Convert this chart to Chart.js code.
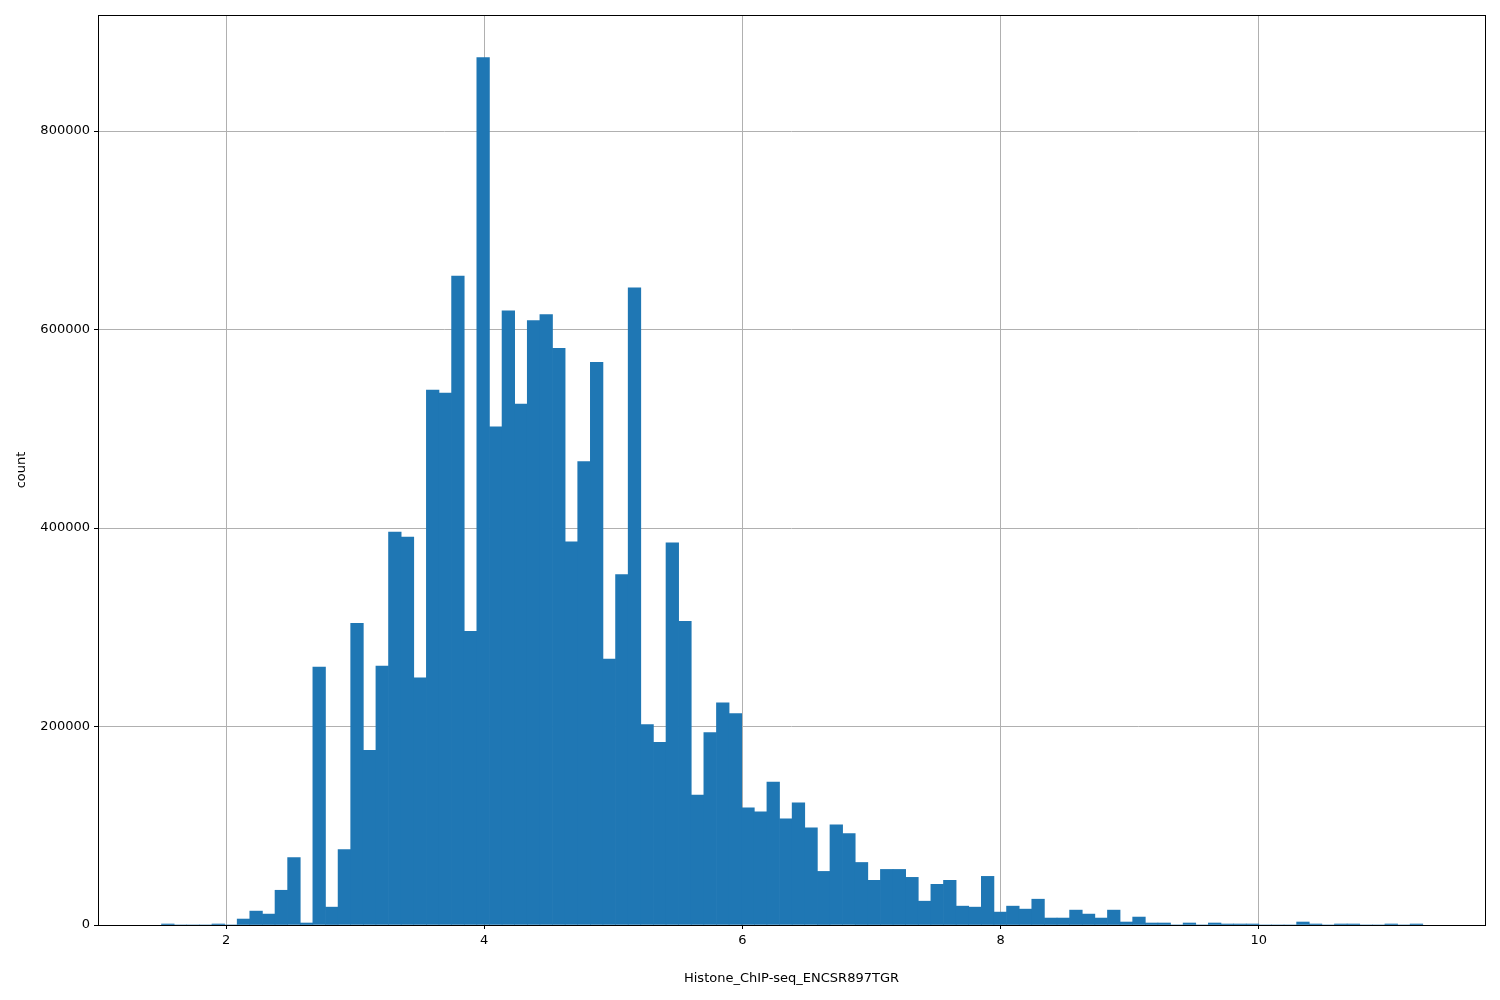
<!DOCTYPE html>
<html><head><meta charset="utf-8">
<script src="https://cdn.jsdelivr.net/npm/chart.js@4/dist/chart.umd.min.js"></script>
<style>html,body{margin:0;padding:0;background:#fff}#w{width:1500px;height:1000px}</style>
</head><body><div id="w"><canvas id="c"></canvas></div>
<script>
const binStart = 1.5;
const binWidth = 0.0977;
const counts = [1000,0,0,0,1000,0,6000,14000,11000,35000,
68000,2000,260000,18000,76000,304000,176000,261000,396000,391000,
249000,539000,536000,654000,296000,874000,502000,619000,525000,609000,
615000,581000,386000,467000,567000,268000,353000,642000,202000,184000,
385000,306000,131000,194000,224000,213000,118000,114000,144000,107000,
123000,98000,54000,101000,92000,63000,45000,56000,56000,48000,
24000,41000,45000,19000,18000,49000,13000,19000,16000,26000,
7000,7000,15000,11000,7000,15000,3000,8000,2000,2000,
0,2000,0,2000,1000,1000,1000,0,0,0,
3000,1000,0,1000,1000,0,0,1000,0,1000];
const xTicks = [2,4,6,8,10];
const yTicks = [0,200000,400000,600000,800000];
const data = counts.map((v,i)=>({x: binStart + binWidth*(i+0.5), y: v}));
Chart.defaults.font.family = 'DejaVu Sans';
Chart.defaults.font.size = 13;
Chart.defaults.color = '#000';
const border = {id:'border', afterDraw(ch){const a=ch.chartArea,c=ch.ctx;c.save();c.strokeStyle='#000';c.lineWidth=1;c.strokeRect(a.left+0.5,a.top+0.5,a.right-a.left,a.bottom-a.top);c.restore();}};
new Chart(document.getElementById('c'),{
type:'bar',
data:{datasets:[{data, backgroundColor:'#1f77b4', barPercentage:1, categoryPercentage:1, borderWidth:0}]},
options:{responsive:true, maintainAspectRatio:false, animation:false,
layout:{padding:{left:10,right:15,top:15,bottom:10}},
plugins:{legend:{display:false},tooltip:{enabled:false}},
scales:{
x:{type:'linear', offset:false, min:1.008, max:11.752, afterBuildTicks(s){s.ticks=xTicks.map(v=>({value:v}));}, afterFit(s){s.height=65;},
 grid:{offset:false, color:'#b0b0b0', tickLength:4, tickColor:'#000'}, border:{display:false},
 ticks:{padding:4}, title:{display:true,text:'Histone_ChIP-seq_ENCSR897TGR',padding:{top:4}}},
y:{min:0, max:917000, afterBuildTicks(s){s.ticks=yTicks.map(v=>({value:v}));}, afterFit(s){s.width=88;},
 grid:{color:'#b0b0b0', tickLength:4, tickColor:'#000'}, border:{display:false},
 ticks:{padding:4, callback:v=>String(v)}, title:{display:true,text:'count'}}
}},
plugins:[border]
});
</script></body></html>
